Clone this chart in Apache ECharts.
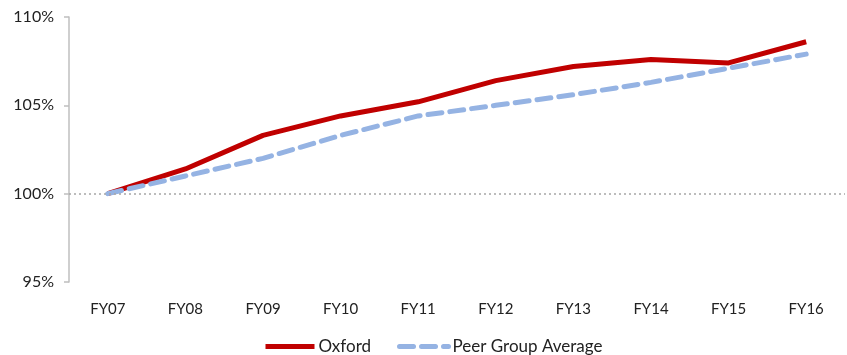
<!DOCTYPE html>
<html>
<head>
<meta charset="utf-8">
<script src="https://cdn.jsdelivr.net/npm/echarts@6/dist/echarts.min.js"></script>
<style>
  html, body { margin: 0; padding: 0; background: #fff; }
  #chart { width: 847px; height: 355px; }
</style>
</head>
<body>
<div id="chart"></div>
<script>
const categories = ['FY07', 'FY08', 'FY09', 'FY10', 'FY11', 'FY12', 'FY13', 'FY14', 'FY15', 'FY16']
const oxford = [100, 101.4, 103.3, 104.4, 105.2, 106.4, 107.2, 107.6, 107.4, 108.6]
const peerAverage = [100, 101.0, 102.0, 103.3, 104.4, 105.0, 105.6, 106.3, 107.1, 107.9]
const yTicks = [95, 100, 105, 110]

const chart = echarts.init(document.getElementById('chart'))

const font = 'Lato, "Open Sans", sans-serif'

chart.setOption({
  animation: false,
  textStyle: { fontFamily: font },
  grid: { left: 69, right: 2, top: 17, bottom: 73 },
  legend: {
    bottom: -5,
    left: 258,
    itemWidth: 49,
    itemHeight: 6,
    itemGap: 26,
    itemStyle: { opacity: 0 },
    lineStyle: { width: 5 },
    textStyle: { fontSize: 17, color: '#222', fontFamily: font, padding: [0, 0, 0, -1] },
    data: ['Oxford', 'Peer Group Average']
  },
  xAxis: {
    type: 'category',
    data: categories,
    axisLine: { show: false },
    axisTick: { show: false },
    axisLabel: { color: '#222', fontSize: 15, margin: 20 }
  },
  yAxis: {
    type: 'value',
    min: yTicks[0],
    max: yTicks[yTicks.length - 1],
    interval: 5,
    axisLine: { show: true, lineStyle: { color: '#bfbfbf', width: 1.5 } },
    axisTick: { show: true, length: 5, lineStyle: { color: '#bfbfbf', width: 1.5 } },
    splitLine: { show: false },
    axisLabel: { color: '#222', fontSize: 16, margin: 15, formatter: v => v + '%' }
  },
  series: [
    {
      name: 'Oxford',
      type: 'line',
      data: oxford,
      symbol: 'none',
      lineStyle: { color: '#c00000', width: 5 },
      itemStyle: { color: '#c00000' },
      z: 3,
      markLine: {
        silent: true,
        symbol: 'none',
        label: { show: false },
        lineStyle: { color: '#a6a6a6', type: [2, 3], width: 1.5 },
        data: [{ yAxis: 100 }]
      }
    },
    {
      name: 'Peer Group Average',
      type: 'line',
      data: peerAverage,
      symbol: 'none',
      lineStyle: { color: '#95b3e3', width: 5, type: [14, 8], cap: 'round' },
      itemStyle: { color: '#95b3e3' },
      z: 4
    }
  ]
})
</script>
</body>
</html>
